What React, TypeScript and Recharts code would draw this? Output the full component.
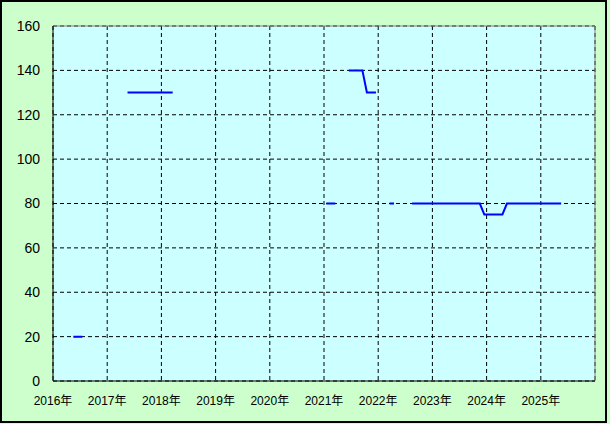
import React from 'react';
import {
  LineChart,
  Line,
  XAxis,
  YAxis,
  CartesianGrid,
  ReferenceLine
} from 'recharts';

// runs of monthly prices (first month, last month, value)
const runStart = ['2016-05', '2017-05', '2021-01', '2021-06', '2021-10', '2022-03', '2022-08', '2023-12', '2024-05'];
const runEnd = ['2016-07', '2018-03', '2021-03', '2021-09', '2021-12', '2022-04', '2023-11', '2024-04', '2025-05'];
const runPrice = [20, 130, 80, 140, 130, 80, 80, 75, 80];

const yearTicks = [2016, 2017, 2018, 2019, 2020, 2021, 2022, 2023, 2024, 2025];
const priceTicks = [0, 20, 40, 60, 80, 100, 120, 140, 160];

const monthIndex = (s: string) => {
  const [y, m] = s.split('-').map(Number);
  return (y - 2016) * 12 + (m - 1);
};

// one row per month, null where there is no price so the line breaks
const chartData: { t: number; price: number | null }[] = [];
for (let i = 0; i < 120; i++) {
  chartData.push({ t: 2016 + (i + 0.5) / 12, price: null });
}
runStart.forEach((s, k) => {
  for (let i = monthIndex(s); i <= monthIndex(runEnd[k]); i++) {
    chartData[i].price = runPrice[k];
  }
});

const font = "'Liberation Sans', 'Noto Sans CJK JP', sans-serif";

export default function App() {
  return (
    <div style={{ position: 'fixed', left: 0, top: 0, width: 610, height: 424, background: '#ccffcc' }}>
      <div
        style={{
          position: 'absolute',
          left: 0,
          top: 0,
          width: 607,
          height: 423,
          border: '2px solid #000',
          boxSizing: 'border-box'
        }}
      />
      <LineChart
        width={610}
        height={424}
        data={chartData}
        margin={{ top: 26, right: 15, left: 0, bottom: 0 }}
        style={{ position: 'absolute', left: 0, top: 0 }}
      >
        <CartesianGrid fill="#ccffff" stroke="#000" strokeDasharray="4 3" />
        <XAxis
          dataKey="t"
          type="number"
          domain={[2016, 2026]}
          ticks={yearTicks}
          tickFormatter={(v) => `${v}年`}
          height={43}
          axisLine={{ stroke: '#000' }}
          tickLine={false}
          tickSize={0}
          tickMargin={15}
          tick={{ fontSize: 12, fill: '#000', fontFamily: font }}
        />
        <YAxis
          type="number"
          domain={[0, 160]}
          ticks={priceTicks}
          width={53}
          axisLine={{ stroke: '#000' }}
          tickLine={false}
          tickSize={0}
          tickMargin={13}
          tick={{ fontSize: 14, fill: '#000', fontFamily: font }}
        />
        <ReferenceLine y={160} stroke="#808080" strokeWidth={1} />
        <ReferenceLine x={2026} stroke="#808080" strokeWidth={1} />
        <Line
          dataKey="price"
          type="linear"
          stroke="#0000ff"
          strokeWidth={2}
          dot={false}
          connectNulls={false}
          isAnimationActive={false}
        />
      </LineChart>
    </div>
  );
}
